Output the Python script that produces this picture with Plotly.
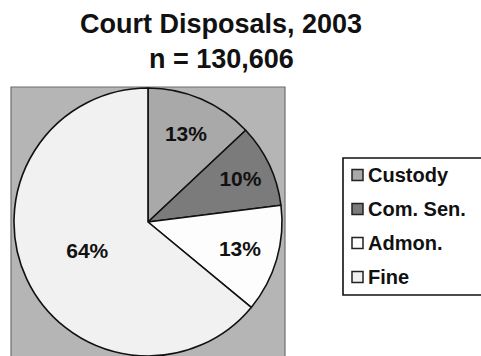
import plotly.graph_objects as go

# ---- data ----
categories = ["Custody", "Com. Sen.", "Admon.", "Fine"]
shares = [13, 10, 13, 64]
slice_colors = ["#a9a9a9", "#7b7b7b", "#fdfdfd", "#f1f1f1"]
title_line1 = "Court Disposals, 2003"
title_line2 = "n = 130,606"

W, H = 481, 356
FONT = "Liberation Sans, Arial, sans-serif"

def px(x):
    return x / W

def py(y):
    return 1 - y / H

fig = go.Figure()

fig.add_trace(go.Pie(
    labels=categories,
    values=shares,
    sort=False,
    direction="clockwise",
    rotation=0,
    marker=dict(colors=slice_colors, line=dict(color="#111111", width=1.6)),
    textinfo="percent",
    texttemplate="%{percent:.0%}",
    textposition="inside",
    insidetextorientation="horizontal",
    textfont=dict(family=FONT, size=21, color="#111111", weight="bold"),
    domain=dict(x=[px(14), px(282)], y=[0, py(88)]),
    showlegend=False,
    hoverinfo="label+percent",
))

shapes = []
# grey plot-area box
shapes.append(dict(type="rect", xref="paper", yref="paper",
                   x0=px(11), x1=px(285), y0=-0.05, y1=py(87),
                   fillcolor="#b5b5b5", line=dict(color="#6e6e6e", width=1.2),
                   layer="below"))
# legend frame (runs past right edge like the reference)
shapes.append(dict(type="rect", xref="paper", yref="paper",
                   x0=px(343), x1=px(500), y0=py(295), y1=py(158),
                   fillcolor="white", line=dict(color="#111111", width=1.6),
                   layer="below"))

annotations = []
row_y = [175, 209, 243, 277]
for name, col, yy in zip(categories, slice_colors, row_y):
    shapes.append(dict(type="rect", xref="paper", yref="paper",
                       x0=px(352), x1=px(363), y0=py(yy + 5.5), y1=py(yy - 5.5),
                       fillcolor=col, line=dict(color="#222222", width=1.5)))
    annotations.append(dict(text=name, xref="paper", yref="paper",
                            x=px(366), y=py(yy), xanchor="left", yanchor="middle",
                            showarrow=False,
                            font=dict(family=FONT, size=20, color="#111111", weight="bold")))

annotations.append(dict(text=title_line2, xref="paper", yref="paper",
                        x=px(221), y=py(59), xanchor="center", yanchor="middle",
                        showarrow=False,
                        font=dict(family=FONT, size=27, color="#111111", weight="bold")))

fig.update_layout(
    width=W, height=H,
    margin=dict(l=0, r=0, t=0, b=0),
    paper_bgcolor="white",
    plot_bgcolor="white",
    title=dict(text=title_line1, x=px(221), xanchor="center",
               y=py(24), yanchor="middle", yref="paper",
               font=dict(family=FONT, size=27, color="#111111", weight="bold")),
    shapes=shapes,
    annotations=annotations,
)

fig.write_html("out.html")
